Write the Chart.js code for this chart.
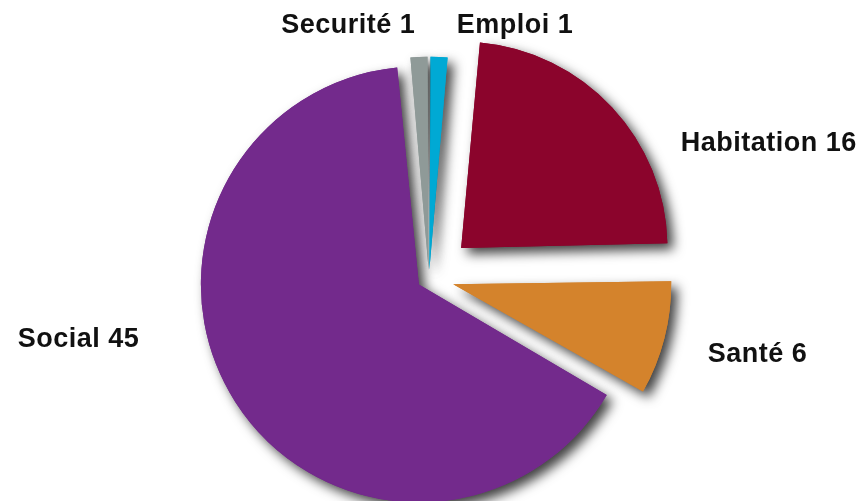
<!DOCTYPE html>
<html><head><meta charset="utf-8">
<script src="https://cdn.jsdelivr.net/npm/chart.js@4"></script>
<style>html,body{margin:0;padding:0;background:#fff;}#wrap{width:866px;height:501px;position:relative;}</style>
</head><body><div id="wrap"><canvas id="c"></canvas></div>
<script>
const categories = ['Emploi', 'Habitation', 'Santé', 'Social', 'Securité'];
const values = [1, 16, 6, 45, 1];
const colors = ['#00A9D4', '#8B042C', '#D4832C', '#732A8C', '#8F9A98'];
const sliceOffsets = [32, 176, 100, 48, 32];
const labelAlign = ['left', 'left', 'left', 'right', 'right'];
const labelNudge = [[18, -39], [69, 36], [55, 19], [-106, -56], [-4, -39]];

const shadowPlugin = {
  id: 'shadowPass',
  beforeDatasetsDraw(chart) {
    const ctx = chart.ctx;
    const meta = chart.getDatasetMeta(0);
    ctx.save();
    ctx.shadowColor = 'rgba(0,0,0,0.75)';
    ctx.shadowBlur = 12;
    ctx.shadowOffsetX = 6;
    ctx.shadowOffsetY = 6;
    meta.data.forEach(el => el.draw(ctx));
    ctx.restore();
  }
};

const labelPlugin = {
  id: 'outsideLabels',
  afterDatasetsDraw(chart) {
    const ctx = chart.ctx;
    const meta = chart.getDatasetMeta(0);
    ctx.save();
    ctx.font = 'bold 27px "Liberation Sans", Arial, sans-serif';
    if ('letterSpacing' in ctx) ctx.letterSpacing = '0.5px';
    ctx.fillStyle = '#111';
    ctx.textBaseline = 'middle';
    meta.data.forEach((el, i) => {
      const mid = (el.startAngle + el.endAngle) / 2;
      const d = sliceOffsets[i] / 4 + el.outerRadius;
      const x = el.x + Math.cos(mid) * d + labelNudge[i][0];
      const y = el.y + Math.sin(mid) * d + labelNudge[i][1];
      ctx.textAlign = labelAlign[i];
      ctx.fillText(categories[i] + ' ' + values[i], x, y);
    });
    ctx.restore();
  }
};

new Chart(document.getElementById('c'), {
  type: 'pie',
  data: {
    labels: categories,
    datasets: [{
      data: values,
      backgroundColor: colors,
      borderWidth: 0,
      offset: sliceOffsets,
      radius: 206
    }]
  },
  options: {
    responsive: true,
    maintainAspectRatio: false,
    animation: false,
    events: [],
    layout: { padding: { left: 0, right: 8, top: 55, bottom: 0 } },
    plugins: { legend: { display: false }, tooltip: { enabled: false } }
  },
  plugins: [shadowPlugin, labelPlugin]
});
</script>
</body></html>
